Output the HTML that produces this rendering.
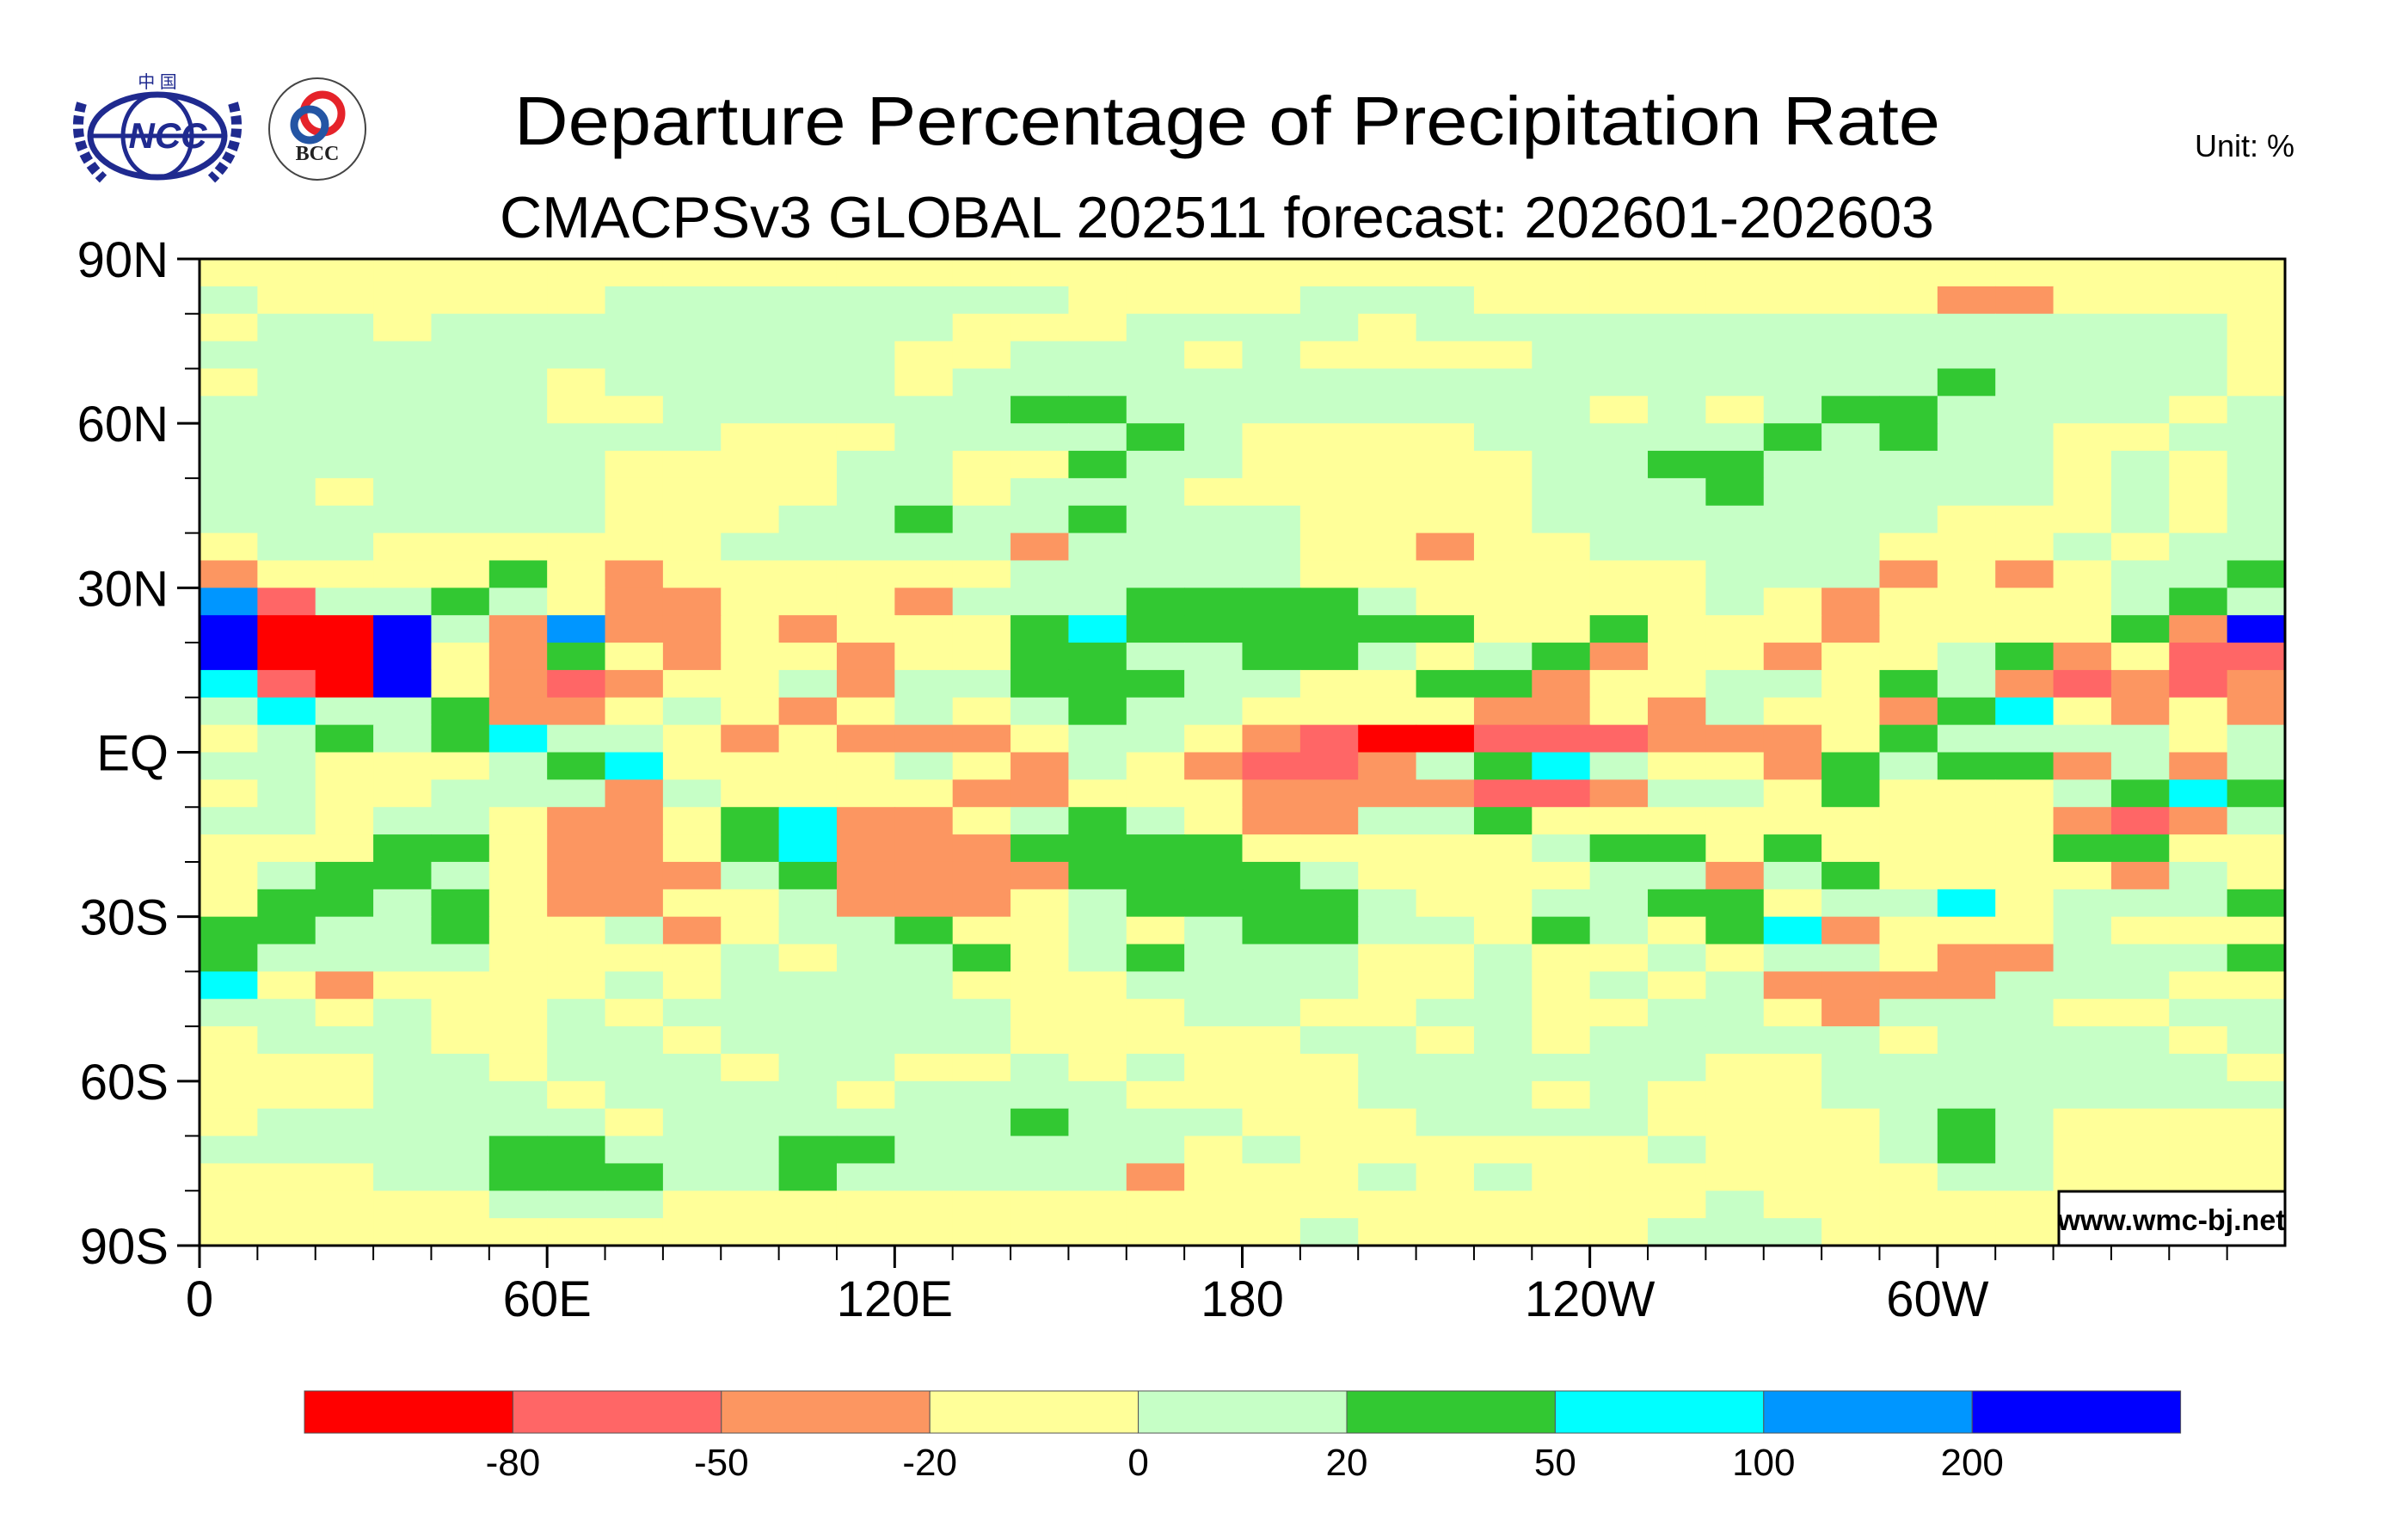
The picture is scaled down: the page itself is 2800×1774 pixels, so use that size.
<!DOCTYPE html>
<html><head><meta charset="utf-8"><style>
html,body{margin:0;padding:0;background:#fff;}
svg{display:block;font-family:"Liberation Sans",sans-serif;}
</style></head><body>
<svg id="chart" width="2800" height="1774" viewBox="0 0 2800 1774" xmlns="http://www.w3.org/2000/svg">
  <rect x="0" y="0" width="2800" height="1774" fill="#fff"/>
  <g>
    <ellipse cx="183" cy="158" rx="78" ry="48" fill="none" stroke="#1f2a8f" stroke-width="7"/>
    <ellipse cx="183" cy="158" rx="40" ry="48" fill="none" stroke="#1f2a8f" stroke-width="5"/>
    <line x1="105" y1="158" x2="261" y2="158" stroke="#1f2a8f" stroke-width="5"/>
    <path d="M95 120 Q80 170 120 208 M271 120 Q286 170 246 208" fill="none" stroke="#1f2a8f" stroke-width="12" stroke-dasharray="10 5"/>
    <text x="195" y="172" font-size="42" font-weight="bold" font-style="italic" fill="#1f2a8f" text-anchor="middle">NCC</text>
    <text x="183" y="102" font-size="20" fill="#1f2a8f" text-anchor="middle" font-family="'Liberation Sans','Noto Sans CJK SC',sans-serif">中   国</text>
  </g>
  <g>
    <ellipse cx="369" cy="150" rx="56" ry="59" fill="#fff" stroke="#444" stroke-width="2"/>
    <circle cx="375" cy="132" r="22" fill="none" stroke="#e5232a" stroke-width="9"/>
    <circle cx="360" cy="145" r="18" fill="none" stroke="#2455a4" stroke-width="9"/>
    <text x="369" y="186" font-size="24" font-weight="bold" font-family="'Liberation Serif',serif" fill="#222" text-anchor="middle">BCC</text>
  </g>
  <text x="1427" y="168" font-size="80" text-anchor="middle" textLength="1658" lengthAdjust="spacingAndGlyphs">Departure Percentage of Precipitation Rate</text>
  <text x="1415" y="276" font-size="68" text-anchor="middle" textLength="1668" lengthAdjust="spacingAndGlyphs">CMACPSv3 GLOBAL 202511 forecast: 202601-202603</text>
  <text x="2552" y="182" font-size="36">Unit:  %</text>
  <g id="cells"></g>
  <rect x="232" y="301" width="2425" height="1147" fill="none" stroke="#000" stroke-width="3"/>
  <g id="axes"></g>
  <g>
    <rect x="2394" y="1385" width="263" height="63" fill="#fff" stroke="#000" stroke-width="3"/>
    <text x="2525" y="1430" font-size="34" font-weight="bold" text-anchor="middle">www.wmc-bj.net</text>
  </g>
  <g id="colorbar"></g>
</svg>
<script>
const levelLabels = ["-80","-50","-20","0","20","50","100","200"];
const levelColors = ["#ff0000","#ff6666","#fc9661","#ffff99","#c6ffc6","#32c832","#00ffff","#0096ff","#0000ff"];
const lonTickLabels = ["0","60E","120E","180","120W","60W"];
const lonTickValues = [0,60,120,180,240,300];
const latTickLabels = ["90N","60N","30N","EQ","30S","60S","90S"];
const latTickValues = [90,60,30,0,-30,-60,-90];
// grid rows: 5-degree latitude bands from 90N to 90S; 36 columns of 10 degrees from 0E eastward; digit = colour class index
const gridRows = [
"333333333333333333333333333333333333",
"433333344444444333344433333333223333",
"344344444444433344443444444444444443",
"444444444444334443433334444444444443",
"344444344444344444444444444444544443",
"444444334444445544444444343455444434",
"444444444333444454333344444545443344",
"444444433334433544333334455444443434",
"443444433334434443333334445444443434",
"444444433344544544433334444444333434",
"344333333444442444433233444443334344",
"233335323333334444433333334442323445",
"714454322333244455554333334323333454",
"800842722323335655555533533323333528",
"800832532332335544554345233233452311",
"610832123342445554433552334435421212",
"464452234323434544333322324332563232",
"345456443232223443210011122235444434",
"443334563333432432112456433254552424",
"343344424333322333222211244353334565",
"443443223562234543224453333333332124",
"333553223562225555333334553533335533",
"345543222452222555543333442453333243",
"355453223342223455554334455344634445",
"554453342344533434554435435623334333",
"544443333434453454443343343443224445",
"632333343444433344443343434222244433",
"443433434444443334433443344324443344",
"344433443444443333344343444443444434",
"333443444344334343334444443344444443",
"333444344443444433334443433344444444",
"344444434444445444333444433334543333",
"444445544455444443433333343334543333",
"333445554454444423334343333333443333",
"333334443333333333333333334333333333",
"333333333333333333343333344433333333"
];
const X0=232, X1=2657, Y0=301, Y1=1448;
function xScale(lon){return X0+(lon/360)*(X1-X0);}
function yScale(lat){return Y0+((90-lat)/180)*(Y1-Y0);}
const NS="http://www.w3.org/2000/svg";
function mk(tag,attrs){const e=document.createElementNS(NS,tag);for(const k in attrs)e.setAttribute(k,attrs[k]);return e;}
const cells=document.getElementById('cells');
const nRows=gridRows.length;
gridRows.forEach((row,ri)=>{
  const nCols=row.length;
  const latTop=90-ri*180/nRows, latBot=90-(ri+1)*180/nRows;
  for(let ci=0;ci<nCols;ci++){
    const lonL=ci*360/nCols, lonR=(ci+1)*360/nCols;
    const v=+row[ci];
    const r=mk('rect',{x:xScale(lonL),y:yScale(latTop),width:xScale(lonR)-xScale(lonL)+0.6,height:yScale(latBot)-yScale(latTop)+0.6,fill:levelColors[v]});
    
    
    cells.appendChild(r);
  }
});
const axes=document.getElementById('axes');
for(let lat=-90;lat<=90;lat+=10){
  const major=lat%30===0;
  const t=mk('line',{x1:X0-(major?26:17),x2:X0,y1:yScale(lat),y2:yScale(lat),stroke:'#000','stroke-width':major?3:2});
  
  
  axes.appendChild(t);
}
latTickValues.forEach((v,i)=>{
  const t=mk('text',{x:196,y:yScale(v)+21,'font-size':58,'text-anchor':'end'});
  t.textContent=latTickLabels[i];
  
  
  axes.appendChild(t);
});
for(let lon=0;lon<360;lon+=10){
  const major=lon%60===0;
  const t=mk('line',{x1:xScale(lon),x2:xScale(lon),y1:Y1,y2:Y1+(major?26:17),stroke:'#000','stroke-width':major?3:2});
  
  
  axes.appendChild(t);
}
lonTickValues.forEach((v,i)=>{
  const t=mk('text',{x:xScale(v),y:1530,'font-size':58,'text-anchor':'middle'});
  t.textContent=lonTickLabels[i];
  
  
  axes.appendChild(t);
});
const cb=document.getElementById('colorbar');
const CBX=354, CBW=242.4, CBY=1617, CBH=49;
levelColors.forEach((c,i)=>{
  const r=mk('rect',{x:CBX+i*CBW,y:CBY,width:CBW,height:CBH,fill:c,stroke:'#555','stroke-width':1});
  
  
  cb.appendChild(r);
});
levelLabels.forEach((l,i)=>{
  const t=mk('text',{x:CBX+(i+1)*CBW,y:1715,'font-size':44,'text-anchor':'middle'});
  t.textContent=l;
  
  
  cb.appendChild(t);
});
</script>
</body></html>
